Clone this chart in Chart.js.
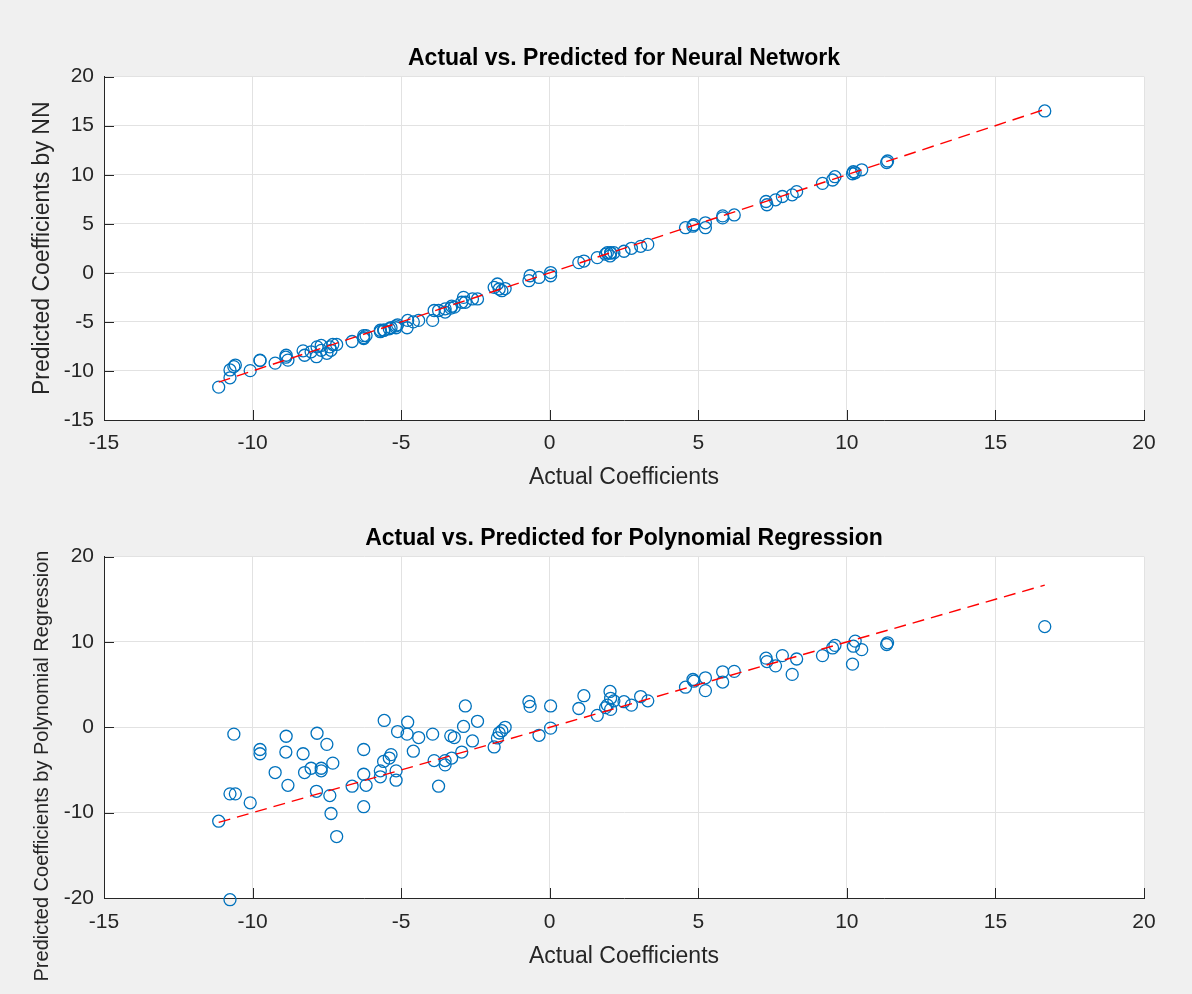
<!DOCTYPE html>
<html>
<head>
<meta charset="utf-8">
<script src="https://cdn.jsdelivr.net/npm/chart.js@4.4.0/dist/chart.umd.min.js"></script>
<style>
  html, body { margin: 0; padding: 0; background: #f0f0f0; }
  #wrap { position: relative; width: 1192px; height: 994px; background: #f0f0f0; overflow: hidden; }
  canvas { position: absolute; left: 0; }
  #c1 { top: 0; }
  #c2 { top: 500px; }
</style>
</head>
<body>
<div id="wrap">
  <canvas id="c1" width="1192" height="500"></canvas>
  <canvas id="c2" width="1192" height="494"></canvas>
</div>
<script>
// ---- data ----
const actual = [
  -11.14, -10.76, -10.76, -10.63, -10.58, -10.08, -9.75, -9.75, -9.24, -8.87,
  -8.88, -8.81, -8.30, -8.25, -8.03, -7.83, -7.85, -7.69, -7.69, -7.50,
  -7.30, -7.40, -7.36, -7.17, -6.65, -6.26, -6.26, -6.18, -6.26, -5.70,
  -5.70, -5.57, -5.59, -5.40, -5.34, -5.17, -5.17, -5.12, -4.78, -4.80,
  -4.59, -4.41, -3.94, -3.89, -3.74, -3.52, -3.52, -3.33, -3.21, -3.30,
  -2.96, -2.90, -2.84, -2.60, -2.43, -1.87, -1.76, -1.70, -1.61, -1.50,
  -0.70, -0.66, -0.36, 0.03, 0.03, 0.98, 1.15, 1.60, 1.88, 1.94,
  2.03, 2.05, 2.16, 2.05, 2.50, 2.75, 3.06, 3.30, 4.57, 4.82,
  4.85, 5.24, 5.24, 5.82, 5.82, 6.21, 7.28, 7.31, 7.60, 7.83,
  8.16, 8.31, 9.18, 9.52, 9.60, 10.19, 10.22, 10.28, 10.50, 11.34,
  11.37, 16.66
];
const predNN = [
  -11.65, -10.70, -9.90, -9.56, -9.40, -9.97, -8.90, -8.95, -9.20, -8.40,
  -8.60, -8.90, -7.95, -8.40, -8.05, -7.55, -8.55, -7.40, -7.90, -8.20,
  -7.30, -7.55, -7.90, -7.30, -7.00, -6.70, -6.40, -6.40, -6.60, -5.85,
  -6.00, -5.85, -5.85, -5.70, -5.60, -5.60, -5.40, -5.30, -4.85, -5.60,
  -5.00, -4.85, -4.85, -3.84, -3.84, -4.00, -3.67, -3.60, -3.50, -3.40,
  -3.00, -2.50, -3.00, -2.66, -2.66, -1.48, -1.14, -1.65, -1.82, -1.60,
  -0.80, -0.30, -0.47, 0.03, -0.30, 1.04, 1.20, 1.55, 1.90, 2.05,
  1.72, 2.05, 2.05, 2.00, 2.20, 2.50, 2.70, 2.90, 4.60, 4.75,
  4.90, 5.10, 4.60, 5.60, 5.80, 5.90, 7.27, 6.94, 7.44, 7.78,
  7.95, 8.28, 9.12, 9.46, 9.80, 10.10, 10.30, 10.20, 10.50, 11.24,
  11.40, 16.50
];
const predPoly = [
  -11.0, -20.2, -7.8, -0.8, -7.8, -8.85, -2.6, -3.1, -5.3, -1.05,
  -2.9, -6.8, -3.1, -5.3, -4.8, -0.7, -7.5, -4.8, -5.1, -2.0,
  -4.2, -8.0, -10.1, -12.8, -6.9, -2.6, -5.5, -6.8, -9.3, -5.8,
  -5.1, 0.8, -4.0, -3.6, -3.2, -5.1, -6.2, -0.5, 0.6, -0.8,
  -2.8, -1.2, -0.8, -3.9, -6.9, -4.4, -3.9, -1.0, -1.2, -3.6,
  -2.9, 0.1, 2.5, -1.6, 0.7, -2.3, -1.25, -0.67, -0.4, 0.0,
  3.0, 2.45, -0.94, 2.5, -0.1, 2.2, 3.7, 1.4, 2.3, 2.6,
  4.2, 3.4, 3.1, 2.1, 3.0, 2.6, 3.6, 3.1, 4.7, 5.6,
  5.4, 5.8, 4.3, 6.5, 5.3, 6.55, 8.1, 7.7, 7.2, 8.4,
  6.2, 8.0, 8.4, 9.3, 9.6, 7.4, 9.5, 10.1, 9.1, 9.7,
  9.9, 11.8
];
const xTicks = [-15, -10, -5, 0, 5, 10, 15, 20];
const yTicksNN = [-15, -10, -5, 0, 5, 10, 15, 20];
const yTicksPoly = [-20, -10, 0, 10, 20];

const titleNN = 'Actual vs. Predicted for Neural Network';
const titlePoly = 'Actual vs. Predicted for Polynomial Regression';
const xLabel = 'Actual Coefficients';
const yLabelNN = 'Predicted Coefficients by NN';
const yLabelPoly = 'Predicted Coefficients by Polynomial Regression';

// ---- styling ----
const FONT = "'Liberation Sans', Arial, Helvetica, sans-serif";
const TICK_COLOR = '#262626';
const GRID_COLOR = '#e2e2e2';
const BLUE = '#0072BD';
const RED = '#ff0000';

const minA = Math.min(...actual), maxA = Math.max(...actual);

const axesPlugin = {
  id: 'matlabAxes',
  beforeDraw(chart) {
    const { ctx, chartArea: a } = chart;
    ctx.save();
    ctx.fillStyle = '#ffffff';
    ctx.fillRect(a.left, a.top, a.right - a.left, a.bottom - a.top);
    ctx.restore();
  },
  beforeDatasetsDraw(chart) {
    const { ctx, chartArea: a, scales } = chart;
    ctx.save();
    ctx.strokeStyle = TICK_COLOR;
    ctx.lineWidth = 1;
    const L = 10;
    scales.x.ticks.forEach(t => {
      const px = Math.round(scales.x.getPixelForValue(t.value)) + 0.5;
      ctx.beginPath(); ctx.moveTo(px, a.bottom); ctx.lineTo(px, a.bottom - L); ctx.stroke();
    });
    scales.y.ticks.forEach(t => {
      const py = Math.round(scales.y.getPixelForValue(t.value)) + 0.5;
      ctx.beginPath(); ctx.moveTo(a.left, py); ctx.lineTo(a.left + L, py); ctx.stroke();
    });
    ctx.restore();
  },
  afterDraw(chart, args, opts) {
    if (!opts || !opts.text) return;
    const { ctx } = chart;
    ctx.save();
    ctx.translate(opts.cx, opts.cy);
    ctx.rotate(-Math.PI / 2);
    ctx.fillStyle = TICK_COLOR;
    ctx.font = opts.size + 'px ' + FONT;
    ctx.textAlign = 'center';
    ctx.textBaseline = 'middle';
    ctx.fillText(opts.text, 0, 0);
    ctx.restore();
  }
};

function makeChart(canvasId, predicted, yTicks, title, yLabel, geo) {
  const scatterData = actual.map((x, i) => ({ x: x, y: predicted[i] }));
  const lineData = [{ x: minA, y: minA }, { x: maxA, y: maxA }];
  return new Chart(document.getElementById(canvasId), {
    type: 'scatter',
    data: {
      datasets: [
        {
          type: 'line',
          data: lineData,
          borderColor: RED,
          borderWidth: 1.4,
          borderDash: [12, 7],
          pointRadius: 0,
          fill: false,
          clip: false
        },
        {
          data: scatterData,
          pointStyle: 'circle',
          pointRadius: 6,
          pointBorderWidth: 1.3,
          pointBorderColor: BLUE,
          pointBackgroundColor: 'rgba(0,0,0,0)',
          borderColor: BLUE,
          backgroundColor: 'rgba(0,0,0,0)',
          clip: false
        }
      ]
    },
    options: {
      responsive: false,
      animation: false,
      devicePixelRatio: 1,
      layout: { padding: { left: geo.padLeft, right: 48, top: 0, bottom: 0 } },
      plugins: {
        legend: { display: false },
        tooltip: { enabled: false },
        matlabAxes: geo.freeYLabel ? { text: yLabel, cx: geo.freeYLabel.cx, cy: geo.freeYLabel.cy, size: geo.freeYLabel.size } : {},
        title: {
          display: true,
          text: title,
          fullSize: false,
          color: '#000000',
          font: { family: FONT, size: 23, weight: 'bold' },
          padding: { top: geo.titleTop, bottom: geo.titleBottom }
        }
      },
      scales: {
        x: {
          type: 'linear',
          min: xTicks[0],
          max: xTicks[xTicks.length - 1],
          afterBuildTicks: s => { s.ticks = xTicks.map(v => ({ value: v })); },
          afterFit: s => { s.height = geo.xHeight; },
          grid: { color: GRID_COLOR, lineWidth: 1, drawTicks: false },
          border: { display: true, color: TICK_COLOR, width: 1 },
          ticks: { color: TICK_COLOR, font: { family: FONT, size: 21 }, padding: geo.xTickPad, maxRotation: 0, autoSkip: false },
          title: { display: true, text: xLabel, color: TICK_COLOR, font: { family: FONT, size: 23 }, padding: { top: 0, bottom: geo.xTitlePad } }
        },
        y: {
          type: 'linear',
          min: yTicks[0],
          max: yTicks[yTicks.length - 1],
          afterBuildTicks: s => { s.ticks = yTicks.map(v => ({ value: v })); },
          afterFit: s => { s.width = 104 - geo.padLeft; },
          grid: { color: GRID_COLOR, lineWidth: 1, drawTicks: false },
          border: { display: true, color: TICK_COLOR, width: 1 },
          ticks: { color: TICK_COLOR, font: { family: FONT, size: 21 }, padding: 10, autoSkip: false },
          title: { display: !geo.freeYLabel, text: yLabel, color: TICK_COLOR, font: { family: FONT, size: 23 }, padding: { top: geo.yTitlePad, bottom: 0 } }
        }
      }
    },
    plugins: [axesPlugin]
  });
}

makeChart('c1', predNN, yTicksNN, titleNN, yLabelNN, {
  padLeft: 20, titleTop: 45, titleBottom: 4, xHeight: 80, xTickPad: 11, xTitlePad: 9, yTitlePad: 9
});
makeChart('c2', predPoly, yTicksPoly, titlePoly, yLabelPoly, {
  padLeft: 20, titleTop: 25, titleBottom: 4, xHeight: 96, xTickPad: 12, xTitlePad: 24, yTitlePad: 9,
  freeYLabel: { cx: 42, cy: 266, size: 20 }
});
</script>
</body>
</html>
